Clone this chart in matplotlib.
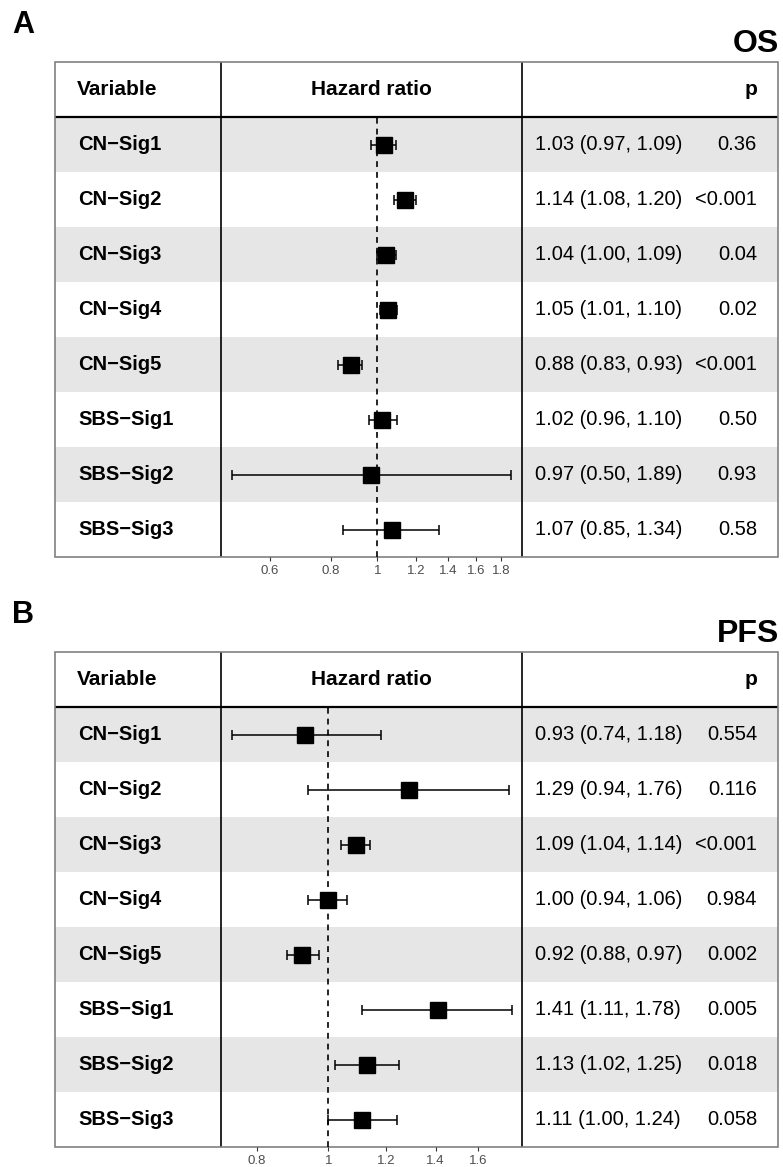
import matplotlib.pyplot as plt
from matplotlib.patches import Rectangle
import numpy as np

# data
variables = ['CN\u2212Sig1', 'CN\u2212Sig2', 'CN\u2212Sig3', 'CN\u2212Sig4', 'CN\u2212Sig5',
             'SBS\u2212Sig1', 'SBS\u2212Sig2', 'SBS\u2212Sig3']

os_hr = [1.03, 1.14, 1.04, 1.05, 0.88, 1.02, 0.97, 1.07]
os_lo = [0.97, 1.08, 1.00, 1.01, 0.83, 0.96, 0.50, 0.85]
os_hi = [1.09, 1.20, 1.09, 1.10, 0.93, 1.10, 1.89, 1.34]
os_p = ['0.36', '<0.001', '0.04', '0.02', '<0.001', '0.50', '0.93', '0.58']
os_ticks = [0.6, 0.8, 1, 1.2, 1.4, 1.6, 1.8]

pfs_hr = [0.93, 1.29, 1.09, 1.00, 0.92, 1.41, 1.13, 1.11]
pfs_lo = [0.74, 0.94, 1.04, 0.94, 0.88, 1.11, 1.02, 1.00]
pfs_hi = [1.18, 1.76, 1.14, 1.06, 0.97, 1.78, 1.25, 1.24]
pfs_p = ['0.554', '0.116', '<0.001', '0.984', '0.002', '0.005', '0.018', '0.058']
pfs_ticks = [0.8, 1, 1.2, 1.4, 1.6]

W, H = 783, 1167
fig = plt.figure(figsize=(W / 100, H / 100), dpi=100)

BODY = ['Liberation Sans', 'DejaVu Sans']
HEAD = ['Liberation Sans', 'DejaVu Sans']
ROW = 55


def px_axes(x0, y0, x1, y1):
    return fig.add_axes([x0 / W, 1 - y1 / H, (x1 - x0) / W, (y1 - y0) / H])


def draw_panel(top, letter, title, hr, lo, hi, pv, ticks, xlim):
    n = len(variables)
    bottom = top + (n + 1) * ROW
    tab = px_axes(55, top, 778, bottom)
    tab.set_xlim(55, 778)
    tab.set_ylim(n + 1, 0)
    tab.axis('off')

    # header
    tab.text(77, 0.5, 'Variable', family=HEAD, weight='bold', fontsize=15, va='center')
    tab.text(371.5, 0.5, 'Hazard ratio', family=HEAD, weight='bold', fontsize=15,
             va='center', ha='center')
    tab.text(757, 0.5, 'p', family=HEAD, weight='bold', fontsize=15, va='center', ha='right')

    for i in range(n):
        if i % 2 == 0:
            tab.axhspan(i + 1, i + 2, color='#e6e6e6', lw=0, zorder=0)
        tab.text(78, i + 1.5, variables[i], family=BODY, weight='bold', fontsize=14.5,
                 va='center')
        tab.text(535, i + 1.5, f'{hr[i]:.2f} ({lo[i]:.2f}, {hi[i]:.2f})', family=BODY,
                 fontsize=14.5, va='center')
        tab.text(757, i + 1.5, pv[i], family=BODY, fontsize=14.5, va='center', ha='right')

    tab.plot([55, 778], [1, 1], color='black', lw=1.6, zorder=3)
    tab.vlines([221, 522], 0, n + 1, color='black', lw=1.2, zorder=3)
    tab.add_patch(Rectangle((55, 0), 723, n + 1, fill=False, edgecolor='#808080',
                            lw=1.2, zorder=4, clip_on=False))

    # forest part
    fp = px_axes(221, top + ROW, 522, bottom)
    fp.patch.set_alpha(0)
    fp.set_xscale('log')
    fp.set_xlim(xlim)
    y = np.arange(1, n + 1)
    fp.set_ylim(n + 0.5, 0.5)
    fp.axvline(1, color='black', lw=1.2, ls=(0, (3.5, 3)), zorder=1)
    hr_a, lo_a, hi_a = np.array(hr), np.array(lo), np.array(hi)
    fp.errorbar(hr_a, y, xerr=[hr_a - lo_a, hi_a - hr_a], fmt='s', color='black',
                ms=11, capsize=3.3, elinewidth=1.1, capthick=1.1, zorder=3)
    for s in fp.spines.values():
        s.set_visible(False)
    fp.set_yticks([])
    fp.set_xticks(ticks)
    fp.set_xticklabels([f'{t:g}' for t in ticks], family=BODY)
    fp.minorticks_off()
    fp.tick_params(axis='x', length=3, width=0.8, color='#333333', labelcolor='#4d4d4d',
                   labelsize=9.5, pad=3)

    fig.text(12 / W, 1 - (top - 52) / H, letter, family=HEAD, weight='bold', fontsize=22,
             va='top', ha='left')
    fig.text(779 / W, 1 - (top - 3) / H, title, family=HEAD, weight='bold', fontsize=23,
             va='bottom', ha='right')


draw_panel(62, 'A', 'OS', os_hr, os_lo, os_hi, os_p, os_ticks, (0.475, 1.99))
draw_panel(652, 'B', 'PFS', pfs_hr, pfs_lo, pfs_hi, pfs_p, pfs_ticks, (0.7145, 1.836))

fig.savefig('out.png', dpi=100)
